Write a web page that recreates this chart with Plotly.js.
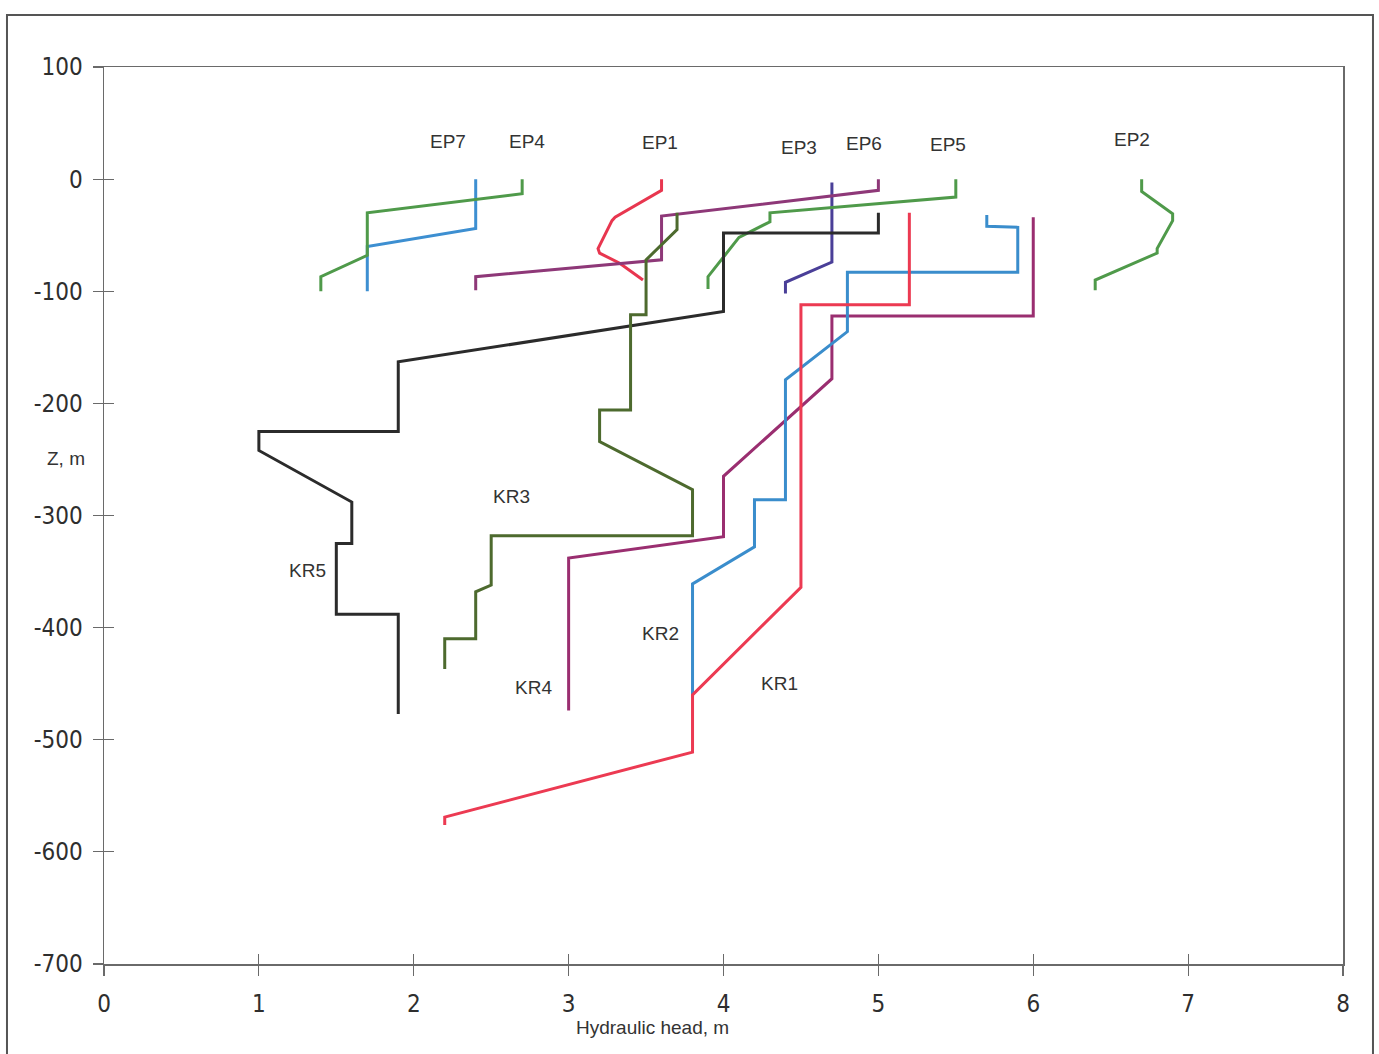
<!DOCTYPE html>
<html>
<head>
<meta charset="utf-8">
<script src="https://cdn.plot.ly/plotly-3.0.1.min.js"></script>
<style>
  html, body { margin: 0; padding: 0; background: #ffffff; }
  #chart { width: 1379px; height: 1054px; }
</style>
</head>
<body>
<div id="chart"></div>
<script>
// ---- Data (hydraulic head in m, elevation Z in m) ----
const EP7_head = [2.4, 2.4, 1.7, 1.7];
const EP7_z    = [0, -44, -60, -100];

const EP4_head = [2.7, 2.7, 1.7, 1.7, 1.4, 1.4];
const EP4_z    = [0, -13, -30, -68, -87, -100];

const EP1_head = [3.6, 3.6, 3.3, 3.28, 3.19, 3.2, 3.33, 3.48];
const EP1_z    = [0, -10, -34, -37, -62, -66, -75, -90];

const EP3_head = [4.7, 4.7, 4.4, 4.4];
const EP3_z    = [-3, -74, -92, -102];

const EP6_head = [5.0, 5.0, 3.6, 3.6, 2.4, 2.4];
const EP6_z    = [0, -10, -33, -72, -87, -99];

const EP5_head = [5.5, 5.5, 4.3, 4.3, 4.1, 3.9, 3.9];
const EP5_z    = [0, -16, -30, -38, -52, -87, -98];

const EP2_head = [6.7, 6.7, 6.9, 6.9, 6.8, 6.8, 6.4, 6.4];
const EP2_z    = [0, -11, -31, -37, -62, -66, -90, -99];

const KR1_head = [5.2, 5.2, 4.5, 4.5, 3.8, 3.8, 2.2, 2.2];
const KR1_z    = [-30, -112, -112, -364, -460, -511, -569, -576];

const KR2_head = [5.7, 5.7, 5.9, 5.9, 4.8, 4.8, 4.4, 4.4, 4.2, 4.2, 3.8, 3.8];
const KR2_z    = [-32, -42, -43, -83, -83, -136, -179, -286, -286, -328, -361, -462];

const KR3_head = [3.7, 3.7, 3.5, 3.5, 3.4, 3.4, 3.2, 3.2, 3.8, 3.8, 2.5, 2.5, 2.4, 2.4, 2.2, 2.2];
const KR3_z    = [-30, -45, -72, -121, -121, -206, -206, -234, -277, -318, -318, -362, -368, -410, -410, -437];

const KR4_head = [6.0, 6.0, 4.7, 4.7, 4.0, 4.0, 3.0, 3.0];
const KR4_z    = [-34, -122, -122, -178, -265, -319, -338, -474];

const KR5_head = [5.0, 5.0, 4.0, 4.0, 1.9, 1.9, 1.0, 1.0, 1.6, 1.6, 1.5, 1.5, 1.9, 1.9];
const KR5_z    = [-30, -48, -48, -118, -163, -225, -225, -242, -288, -325, -325, -388, -388, -477];

const xTickVals = [0, 1, 2, 3, 4, 5, 6, 7, 8];
const xTickText = ["0", "1", "2", "3", "4", "5", "6", "7", "8"];
const yTickVals = [100, 0, -100, -200, -300, -400, -500, -600, -700];
const yTickText = ["100", "0", "-100", "-200", "-300", "-400", "-500", "-600", "-700"];

// Labels placed next to each profile (data coordinates)
const labelText = ["EP7", "EP4", "EP1", "EP3", "EP6", "EP5", "EP2", "KR3", "KR5", "KR2", "KR4", "KR1"];
const labelHead = [2.22, 2.73, 3.59, 4.49, 4.91, 5.45, 6.64, 2.63, 1.315, 3.59, 2.775, 4.36];
const labelZ    = [34, 34, 33, 28, 32, 31, 35, -283, -349, -405, -453, -450];

// ---- Styles ----
const series = [
  {name: "EP7", x: EP7_head, y: EP7_z, color: "#3d8fd1"},
  {name: "EP4", x: EP4_head, y: EP4_z, color: "#4f9a4a"},
  {name: "EP1", x: EP1_head, y: EP1_z, color: "#e8364f"},
  {name: "EP3", x: EP3_head, y: EP3_z, color: "#4a3f98"},
  {name: "EP6", x: EP6_head, y: EP6_z, color: "#8e3878"},
  {name: "EP5", x: EP5_head, y: EP5_z, color: "#4f9a4a"},
  {name: "EP2", x: EP2_head, y: EP2_z, color: "#4f9a4a"},
  {name: "KR5", x: KR5_head, y: KR5_z, color: "#2b2b2b"},
  {name: "KR3", x: KR3_head, y: KR3_z, color: "#4d6a2e"},
  {name: "KR4", x: KR4_head, y: KR4_z, color: "#9a2e70"},
  {name: "KR2", x: KR2_head, y: KR2_z, color: "#3a8dcc"},
  {name: "KR1", x: KR1_head, y: KR1_z, color: "#ec3a52"}
];

const traces = series.map(s => ({
  type: "scatter", mode: "lines", name: s.name,
  x: s.x, y: s.y,
  line: {color: s.color, width: 3},
  showlegend: false, hoverinfo: "x+y+name"
}));
// empty trace carrying the inner tick-mark axes
traces.push({type: "scatter", mode: "lines", x: [], y: [], xaxis: "x2", yaxis: "y2", showlegend: false, hoverinfo: "skip"});

const labelFont = {family: "Liberation Sans, Arial, sans-serif", size: 19, color: "#333333"};
const annotations = labelText.map((t, i) => ({
  text: t, x: labelHead[i], y: labelZ[i], xref: "x", yref: "y",
  xanchor: "center", yanchor: "middle",
  showarrow: false, font: labelFont
}));
annotations.push({text: "Hydraulic head, m", x: 3.54, y: -0.0713, xref: "x", yref: "paper",
  xanchor: "center", yanchor: "middle", showarrow: false, font: labelFont});
annotations.push({text: "Z, m", x: -0.0307, y: -249, xref: "paper", yref: "y",
  xanchor: "center", yanchor: "middle", showarrow: false, font: labelFont});

const tickFont = {family: "Liberation Sans Narrow, Arial Narrow, DejaVu Sans Condensed, Liberation Sans, sans-serif", size: 24, color: "#2e2e2e"};
const axisColor = "#6a6a6a";

const layout = {
  width: 1379, height: 1054,
  margin: {l: 104, r: 36, t: 67, b: 90},
  paper_bgcolor: "#ffffff", plot_bgcolor: "#ffffff",
  xaxis: {
    range: [0, 8], tickvals: xTickVals, ticktext: xTickText, ticks: "outside", ticklen: 10, tickwidth: 1.2, tickcolor: axisColor,
    showline: true, linecolor: axisColor, linewidth: 1.5, mirror: true,
    showgrid: false, zeroline: false, tickfont: tickFont, ticklabelstandoff: 8
  },
  yaxis: {
    range: [-700, 100], tickvals: yTickVals, ticktext: yTickText, ticks: "outside", ticklen: 10, tickwidth: 1.2, tickcolor: axisColor,
    showline: true, linecolor: axisColor, linewidth: 1.5, mirror: true,
    showgrid: false, zeroline: false, tickfont: tickFont, ticklabelstandoff: 5
  },
  xaxis2: {
    range: [0, 8], tickvals: xTickVals, overlaying: "x", anchor: "y2", side: "bottom",
    ticks: "inside", ticklen: 10, tickwidth: 1.2, tickcolor: axisColor,
    showticklabels: false, showline: false, showgrid: false, zeroline: false
  },
  yaxis2: {
    range: [-700, 100], tickvals: yTickVals, overlaying: "y", anchor: "x2", side: "left",
    ticks: "inside", ticklen: 10, tickwidth: 1.2, tickcolor: axisColor,
    showticklabels: false, showline: false, showgrid: false, zeroline: false
  },
  annotations: annotations,
  shapes: [{
    type: "rect", xref: "paper", yref: "paper",
    x0: -0.0783, x1: 1.0242, y0: -0.11, y1: 1.058,
    line: {color: "#555555", width: 2}, layer: "below"
  }]
};

Plotly.newPlot("chart", traces, layout, {displayModeBar: false, staticPlot: true});
</script>
</body>
</html>
